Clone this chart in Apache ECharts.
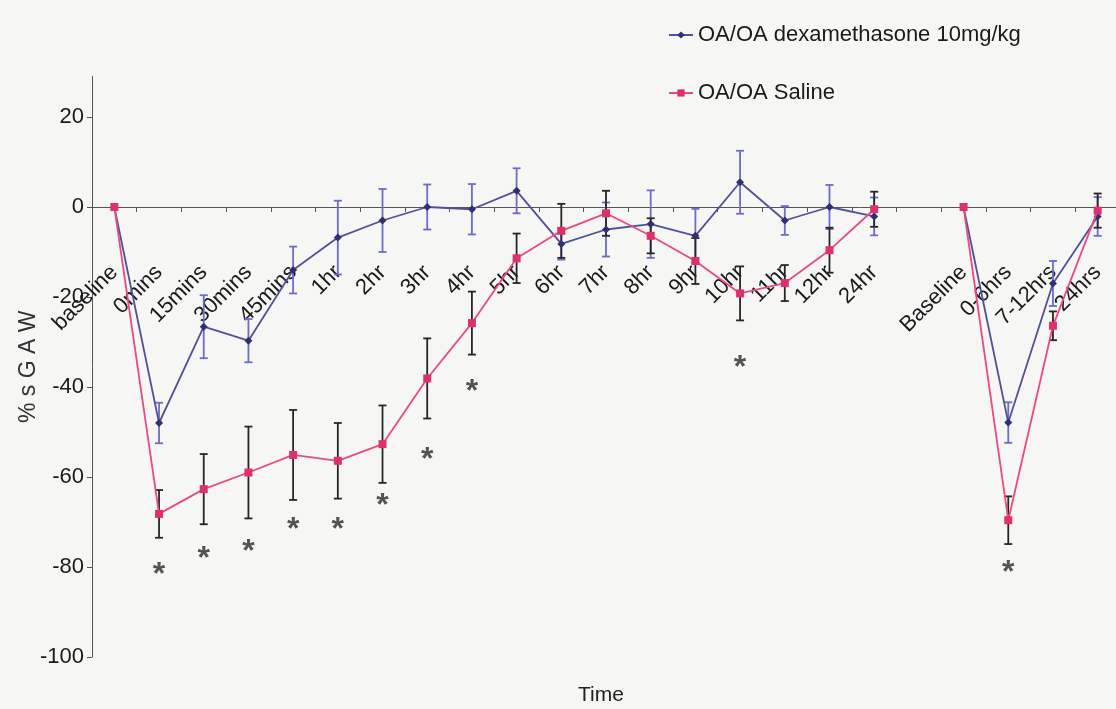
<!DOCTYPE html>
<html>
<head>
<meta charset="utf-8">
<script src="https://cdn.jsdelivr.net/npm/echarts@6/dist/echarts.min.js"></script>
<style>
  html, body { margin: 0; padding: 0; background: #f6f6f4; }
  #chart { width: 1116px; height: 709px; }
</style>
</head>
<body>
<div id="chart"></div>
<script>
// ---- data ----
const categories = ['baseline','0mins','15mins','30mins','45mins','1hr','2hr','3hr','4hr','5hr','6hr','7hr','8hr','9hr','10hr','11hr','12hr','24hr','','Baseline','0-6hrs','7-12hrs','24hrs'];

const dexName = 'OA/OA dexamethasone 10mg/kg';
const dexMean = [0,-48,-26.6,-29.7,-14,-6.8,-3,0,-0.5,3.6,-8.2,-5,-3.8,-6.4,5.5,-3,0,-2.1,null,0,-47.9,-17,-2.1];
const dexErr  = [0,4.5,7,4.8,5.2,8.2,7,5,5.6,5,3.5,6,7.5,6,7,3.2,4.9,4.2,null,0,4.5,5,4.3];

const salName = 'OA/OA Saline';
const salMean = [0,-68.2,-62.7,-59,-55.1,-56.4,-52.7,-38.1,-25.8,-11.4,-5.3,-1.4,-6.4,-12,-19.2,-16.9,-9.6,-0.5,null,0,-69.6,-26.4,-0.8];
const salErr  = [0,5.3,7.8,10.2,10,8.4,8.6,8.9,7,5.5,6,5,3.9,5.1,6,4,5,3.9,null,0,5.3,3.2,3.8];

const starCats   = ['0mins','15mins','30mins','45mins','1hr','2hr','3hr','4hr','10hr','0-6hrs'];
const starValues = [-80.3,-76.7,-75.1,-70.2,-70.2,-65,-54.6,-39.6,-34.2,-79.9];

const yTicks = [-100,-80,-60,-40,-20,0,20];

// ---- chart ----
const FONT = "'Liberation Sans',Arial,sans-serif";

function errData(means, errs) {
  const out = [];
  means.forEach((m, i) => {
    if (m === null || !errs[i]) return;
    out.push([i, m - errs[i], m + errs[i]]);
  });
  return out;
}

function errSeries(means, errs, color) {
  return {
    type: 'custom',
    silent: true,
    z: 1,
    encode: { x: 0, y: [1, 2] },
    data: errData(means, errs),
    renderItem: function (params, api) {
      const i = api.value(0);
      const lo = api.coord([i, api.value(1)]);
      const hi = api.coord([i, api.value(2)]);
      const hw = 4;
      const st = { stroke: color, lineWidth: 1.8 };
      return {
        type: 'group',
        children: [
          { type: 'line', shape: { x1: lo[0], y1: lo[1], x2: hi[0], y2: hi[1] }, style: st },
          { type: 'line', shape: { x1: lo[0] - hw, y1: lo[1], x2: lo[0] + hw, y2: lo[1] }, style: st },
          { type: 'line', shape: { x1: hi[0] - hw, y1: hi[1], x2: hi[0] + hw, y2: hi[1] }, style: st }
        ]
      };
    }
  };
}

const chart = echarts.init(document.getElementById('chart'), null, { renderer: 'canvas' });

chart.setOption({
  backgroundColor: '#f6f6f4',
  animation: false,
  textStyle: { fontFamily: FONT },
  title: {
    text: 'Time',
    left: 573,
    top: 680,
    textStyle: { fontFamily: FONT, fontSize: 21, fontWeight: 'normal', color: '#222' }
  },
  legend: {
    data: [dexName, salName],
    orient: 'vertical',
    left: 663,
    top: 19,
    itemWidth: 24,
    itemHeight: 9,
    itemGap: 36,
    textStyle: { fontFamily: FONT, fontSize: 22, color: '#1a1a1a' }
  },
  grid: {
    left: 92, right: -4, top: 76.5, bottom: 52,
    outerBoundsMode: 'none'
  },
  xAxis: {
    type: 'category',
    data: categories,
    boundaryGap: true,
    axisLine: { onZero: true, lineStyle: { color: '#555', width: 1 } },
    axisTick: { show: true, interval: 0, length: 5, lineStyle: { color: '#555' } },
    axisLabel: {
      show: true,
      interval: 0,
      rotate: 45,
      margin: -388,
      hideOverlap: false,
      fontFamily: FONT,
      fontSize: 22,
      color: '#1a1a1a'
    },
    splitLine: { show: false }
  },
  yAxis: {
    type: 'value',
    min: -100,
    max: 29,
    name: '% s G A W',
    nameLocation: 'middle',
    nameRotate: 90,
    nameGap: 52,
    nameMoveOverlap: false,
    nameTextStyle: { fontFamily: FONT, fontSize: 23, color: '#333' },
    axisLine: { show: true, lineStyle: { color: '#555', width: 1 } },
    axisTick: { show: true, length: 5, customValues: yTicks, lineStyle: { color: '#555' } },
    axisLabel: { customValues: yTicks, margin: 8, fontFamily: FONT, fontSize: 22, color: '#1a1a1a' },
    splitLine: { show: false }
  },
  series: [
    errSeries(dexMean, dexErr, '#6b6bd0'),
    errSeries(salMean, salErr, '#262626'),
    {
      name: dexName,
      type: 'line',
      z: 3,
      data: dexMean,
      connectNulls: false,
      symbol: 'diamond',
      symbolSize: 8,
      lineStyle: { color: '#50509e', width: 1.8 },
      itemStyle: { color: '#2f2f72' }
    },
    {
      name: salName,
      type: 'line',
      z: 4,
      data: salMean,
      connectNulls: false,
      symbol: 'rect',
      symbolSize: 8,
      lineStyle: { color: '#ea4a80', width: 1.8 },
      itemStyle: { color: '#e0306c' }
    },
    {
      type: 'scatter',
      silent: true,
      z: 5,
      symbolSize: 1,
      itemStyle: { color: 'rgba(0,0,0,0)' },
      data: starCats.map((c, i) => [c, starValues[i]]),
      label: {
        show: true,
        position: 'inside',
        formatter: '*',
        fontFamily: "'Liberation Sans',sans-serif",
        fontWeight: 'bold',
        fontSize: 32,
        color: '#2a2a2a',
        offset: [0, 7]
      }
    }
  ]
});
</script>
</body>
</html>
